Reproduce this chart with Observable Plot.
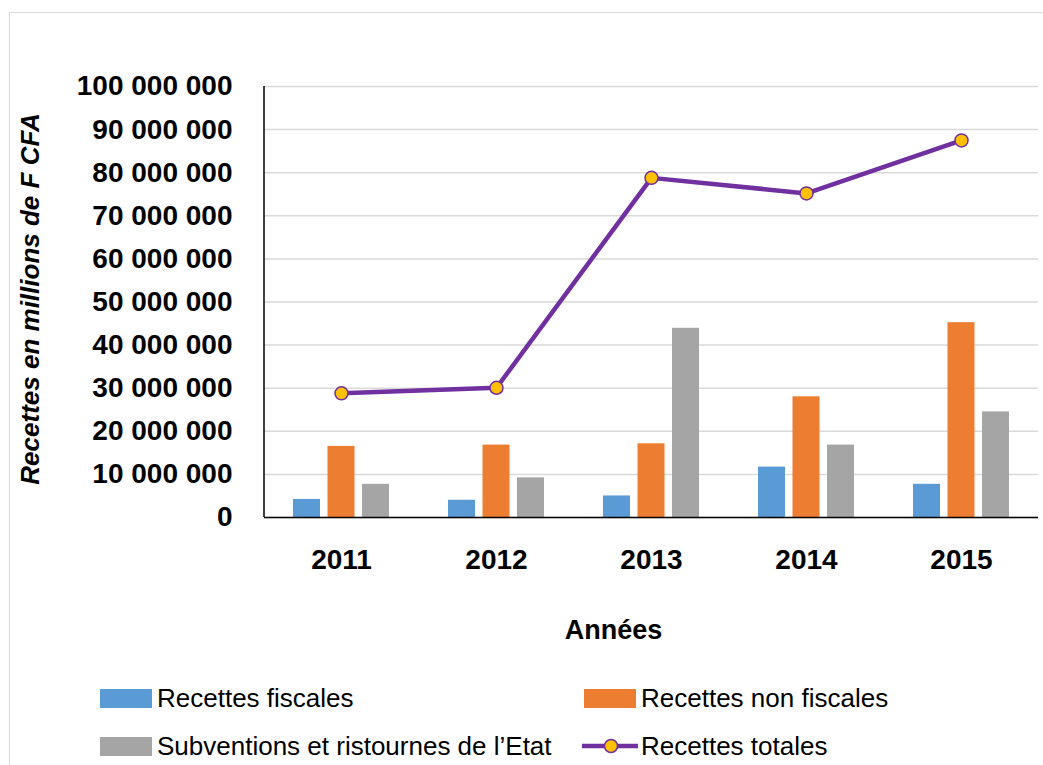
<!DOCTYPE html>
<html>
<head>
<meta charset="utf-8">
<script src="https://cdn.jsdelivr.net/npm/d3@7"></script>
<script src="https://cdn.jsdelivr.net/npm/@observablehq/plot@0.6"></script>
<style>
  html, body { margin: 0; padding: 0; background: #fff; overflow: hidden; }
  #wrap { position: relative; width: 1043px; height: 765px; font-family: "Liberation Sans", Arial, sans-serif; color: #000; }
  #border { position: absolute; left: 9px; top: 12px; width: 1100px; height: 800px; border: 1.5px solid #d9d9d9; box-sizing: border-box; }
  #chart { position: absolute; left: 0; top: 0; }
  .lg { position: absolute; display: flex; align-items: center; font-size: 26px; white-space: nowrap; }
  .sw { width: 52px; height: 19px; margin-right: 5px; }
</style>
</head>
<body>
<div id="wrap">
  <div id="border"></div>
  <div id="chart"></div>
</div>
<script>
const years = ["2011", "2012", "2013", "2014", "2015"];
const recettesFiscales = [4200000, 4000000, 5000000, 11700000, 7700000];
const recettesNonFiscales = [16500000, 16800000, 17100000, 28000000, 45200000];
const subventionsEtat = [7700000, 9200000, 43900000, 16800000, 24500000];
const recettesTotales = [28800000, 30100000, 78800000, 75200000, 87500000];
const yTicks = [0, 10000000, 20000000, 30000000, 40000000, 50000000, 60000000, 70000000, 80000000, 90000000, 100000000];
const seriesNames = ["Recettes fiscales", "Recettes non fiscales", "Subventions et ristournes de l\u2019Etat", "Recettes totales"];
const seriesColors = ["#5B9BD5", "#ED7D31", "#A5A5A5", "#7030A0"];
const yTitle = "Recettes en millions de F CFA";
const xTitle = "Ann\u00e9es";

const rows = (vals) => years.map((year, i) => ({year, value: vals[i]}));
const fmt = d3.formatLocale({decimal: ",", thousands: " ", grouping: [3], currency: ["", ""]}).format(",d");

const leftAxisLine = (index, scales, values, dims) => {
  const g = d3.create("svg:g");
  g.append("line")
    .attr("x1", dims.marginLeft).attr("x2", dims.marginLeft)
    .attr("y1", scales.y(yTicks[yTicks.length - 1])).attr("y2", scales.y(0))
    .attr("stroke", "#000").attr("stroke-width", 1.5);
  return g.node();
};

const chart = Plot.plot({
  width: 1043,
  height: 665,
  marginLeft: 264,
  marginRight: 5,
  marginTop: 86,
  marginBottom: 148,
  style: {fontFamily: "'Liberation Sans', Arial, sans-serif", fontSize: "28px", fontWeight: "bold", color: "#000", background: "transparent"},
  x: {domain: years, paddingInner: 0.381, paddingOuter: 0.187, label: null},
  y: {domain: [0, 100000000], label: null},
  marks: [
    Plot.gridY(yTicks, {stroke: "#d9d9d9", strokeOpacity: 1, strokeWidth: 1.5}),
    Plot.barY(rows(recettesFiscales), {x: "year", y: "value", fill: seriesColors[0], insetLeft: 0, insetRight: 69}),
    Plot.barY(rows(recettesNonFiscales), {x: "year", y: "value", fill: seriesColors[1], insetLeft: 34.5, insetRight: 34.5}),
    Plot.barY(rows(subventionsEtat), {x: "year", y: "value", fill: seriesColors[2], insetLeft: 69, insetRight: 0}),
    Plot.ruleY([0], {stroke: "#000", strokeWidth: 1.5}),
    leftAxisLine,
    Plot.line(rows(recettesTotales), {x: "year", y: "value", stroke: seriesColors[3], strokeWidth: 4.5}),
    Plot.dot(rows(recettesTotales), {x: "year", y: "value", r: 6.5, fill: "#FFC000", stroke: seriesColors[3], strokeWidth: 1.5}),
    Plot.axisY(yTicks, {tickSize: 0, tickPadding: 32, tickFormat: fmt, label: null, fontSize: 28, fontWeight: "bold"}),
    Plot.axisX({tickSize: 0, tickPadding: 32, label: null, fontSize: 28, fontWeight: "bold"}),
    Plot.text([yTitle], {frameAnchor: "left", dx: -234, dy: -3, rotate: -90, textAnchor: "middle", lineAnchor: "middle", fontSize: 26, fontWeight: "bold", fontStyle: "italic"}),
    Plot.text([xTitle], {frameAnchor: "bottom", dx: -38, dy: 113, textAnchor: "middle", lineAnchor: "middle", fontSize: 27, fontWeight: "bold"})
  ]
});
document.getElementById("chart").appendChild(chart);

// Legend (HTML, below the SVG)
const wrap = document.getElementById("wrap");
const legendPos = [
  {left: 100, top: 698},
  {left: 584, top: 698},
  {left: 100, top: 746},
  {left: 582, top: 746}
];
seriesNames.forEach((name, i) => {
  const item = document.createElement("div");
  item.className = "lg";
  item.style.left = legendPos[i].left + "px";
  item.style.top = (legendPos[i].top - 16) + "px";
  item.style.height = "32px";
  let sw;
  if (i < 3) {
    sw = document.createElement("div");
    sw.className = "sw";
    sw.style.background = seriesColors[i];
  } else {
    sw = document.createElementNS("http://www.w3.org/2000/svg", "svg");
    sw.setAttribute("width", 56);
    sw.setAttribute("height", 20);
    sw.style.marginRight = "3px";
    sw.innerHTML = `<line x1="0" x2="56" y1="10" y2="10" stroke="${seriesColors[3]}" stroke-width="4.5"/><circle cx="29" cy="10" r="6.5" fill="#FFC000" stroke="${seriesColors[3]}" stroke-width="1.5"/>`;
  }
  const label = document.createElement("span");
  label.textContent = name;
  item.appendChild(sw);
  item.appendChild(label);
  wrap.appendChild(item);
});
</script>
</body>
</html>
